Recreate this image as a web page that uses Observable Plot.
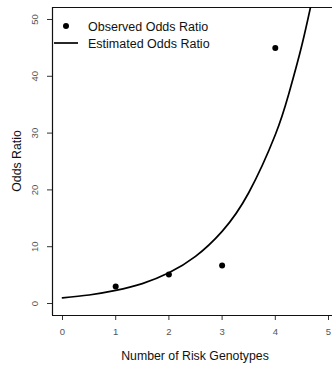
<!DOCTYPE html>
<html>
<head>
<meta charset="utf-8">
<script src="https://cdn.jsdelivr.net/npm/d3@7"></script>
<script src="https://cdn.jsdelivr.net/npm/@observablehq/plot@0.6"></script>
<style>
  html, body { margin: 0; padding: 0; background: #fff; }
  svg { display: block; }
</style>
</head>
<body>
<div id="chart"></div>
<script>
// Observed odds ratios by number of risk genotypes
const genotypes = [1, 2, 3, 4];
const observedOR = [3.0, 5.1, 6.7, 45.0];

// Estimated odds ratio curve
const curveX = [0, 0.5, 1, 1.5, 2, 2.5, 3, 3.5, 4, 4.25, 4.5, 4.75];
const curveY = [1.0, 1.5, 2.3, 3.5, 5.4, 8.3, 12.7, 19.5, 29.7, 36.8, 45.5, 56.0];

const xTicks = [0, 1, 2, 3, 4, 5];
const yTicks = [0, 10, 20, 30, 40, 50];
const legendLabels = ["Observed Odds Ratio", "Estimated Odds Ratio"];
const xLabel = "Number of Risk Genotypes";
const yLabel = "Odds Ratio";

const points = genotypes.map((g, i) => ({x: g, y: observedOR[i]}));
const curve = curveX.map((x, i) => ({x, y: curveY[i]}));

const xDom = [-0.188, 5.075];
const yDom = [-2.11, 52.11];
const font = "'Liberation Sans', Arial, Helvetica, sans-serif";

const plot = Plot.plot({
  width: 332,
  height: 369,
  marginLeft: 52,
  marginRight: 0,
  marginTop: 7,
  marginBottom: 54,
  style: {fontFamily: font, background: "#fff", overflow: "visible"},
  x: {domain: xDom, ticks: xTicks},
  y: {domain: yDom, ticks: yTicks},
  marks: [
    Plot.axisX({ticks: xTicks, tickFormat: "d", tickSize: 5, tickPadding: 8, fontSize: 9.5, color: "#555", stroke: "#333", label: null}),
    Plot.axisY({ticks: yTicks, tickFormat: "d", tickSize: 5, tickPadding: 10, fontSize: 9.5, color: "#555", stroke: "#333", tickRotate: -90, label: null, textAnchor: "middle"}),
    Plot.ruleY([yDom[1]], {stroke: "#111", strokeWidth: 1.2}),
    Plot.ruleY([yDom[0]], {stroke: "#111", strokeWidth: 1.2}),
    Plot.ruleX([xDom[0]], {stroke: "#111", strokeWidth: 1.2}),
    Plot.line(curve, {x: "x", y: "y", curve: "natural", stroke: "#000", strokeWidth: 1.7, clip: true}),
    Plot.dot(points, {x: "x", y: "y", r: 3, fill: "#000", stroke: "none"})
  ]
});

const svg = d3.select(plot);
// Axis titles
svg.append("text")
  .attr("x", 195).attr("y", 360)
  .attr("text-anchor", "middle")
  .attr("font-family", font).attr("font-size", 12.3).attr("fill", "#111")
  .text(xLabel);
svg.append("text")
  .attr("transform", "translate(21,161) rotate(-90)")
  .attr("text-anchor", "middle")
  .attr("font-family", font).attr("font-size", 12.3).attr("fill", "#111")
  .text(yLabel);
// Legend
const lg = svg.append("g").attr("font-family", font).attr("font-size", 12.5).attr("fill", "#111").attr("text-anchor", "start");
lg.append("circle").attr("cx", 66).attr("cy", 26).attr("r", 3).attr("fill", "#000");
lg.append("text").attr("x", 88).attr("y", 30.5).text(legendLabels[0]);
lg.append("line").attr("x1", 54).attr("x2", 78).attr("y1", 43).attr("y2", 43).attr("stroke", "#000").attr("stroke-width", 1.7);
lg.append("text").attr("x", 88).attr("y", 47.5).text(legendLabels[1]);

document.getElementById("chart").appendChild(plot);
</script>
</body>
</html>
